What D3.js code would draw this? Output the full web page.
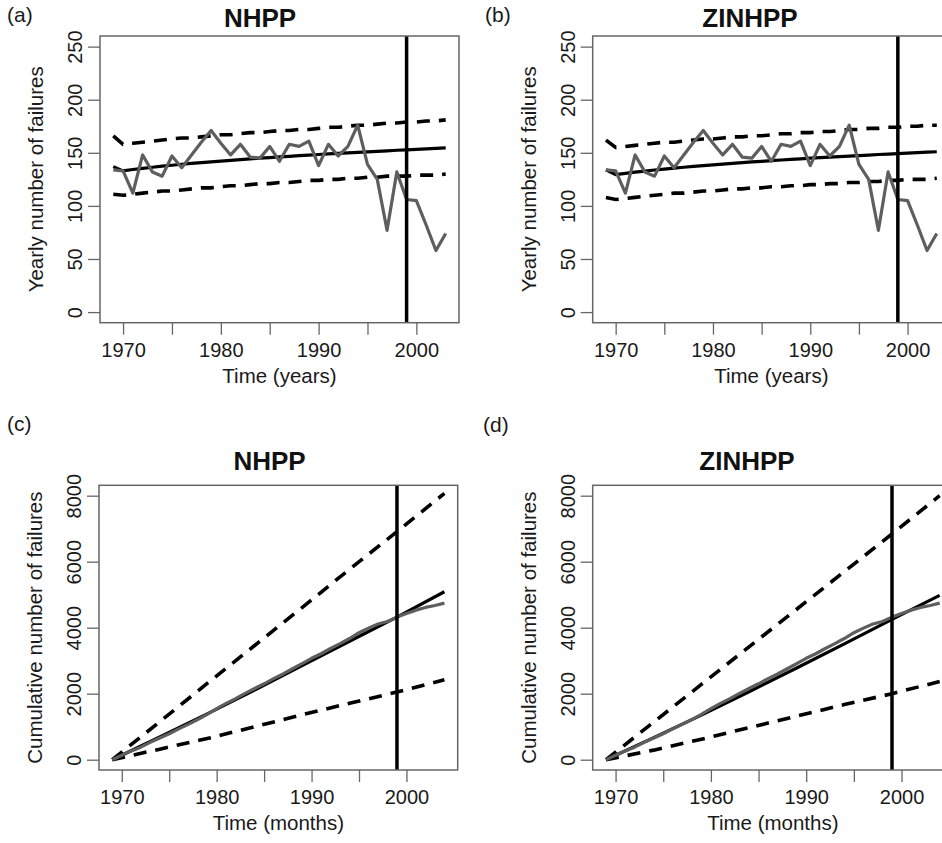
<!DOCTYPE html>
<html>
<head>
<meta charset="utf-8">
<script src="https://cdn.jsdelivr.net/npm/d3@7"></script>
<style>
  body { margin: 0; background: #fff; }
  svg { display: block; font-family: "Liberation Sans", Arial, Helvetica, sans-serif; }
</style>
</head>
<body>
<div id="chart"></div>
<script>
// Yearly failure counts, 1969-2003
const years = d3.range(1969, 2004);
const observed = [134,133,112,148,132,128,147,136,148,160, 171,159,148,158,146,145,156,142,158,156, 161,138,158,147,156,176,139,125,77,132, 106,105,82,58,74];

// NHPP yearly fit and 95% bounds
const nhppMean  = [137,133,134.3,135.4,136.4,137.4,138.3,139.2,140,140.8, 141.5,142.2,142.9,143.6,144.2,144.9,145.5,146.1,146.7,147.3, 147.8,148.4,148.9,149.4,149.9,150.4,150.9,151.4,151.9,152.4, 152.8,153.3,153.7,154.2,154.6];
const nhppUpper = [166,158,159,160,161,162,163,164,164,165, 166,167,167,168,169,169,170,171,171,172, 172,173,174,174,175,176,176,177,178,178, 179,179,180,180,181];
const nhppLower = [111,110,111,112,113,114,114,115,116,117, 117,118,119,119,120,121,121,122,122,123, 124,124,125,125,126,126,127,127,128,128, 128,129,129,129,130];

// ZINHPP yearly fit and 95% bounds
const zinMean  = [134,129.5,130.7,131.8,132.8,133.8,134.7,135.6,136.4,137.2, 138,138.7,139.4,140.1,140.8,141.4,142,142.6,143.2,143.8, 144.3,144.9,145.4,145.9,146.4,146.9,147.4,147.9,148.4,148.8, 149.3,149.7,150.2,150.6,151];
const zinUpper = [162,155,156,157,158,159,160,160,161,162, 163,163,164,165,165,166,166,167,168,168, 169,169,170,170,171,172,172,173,173,174, 174,175,175,176,176];
const zinLower = [108,106,107,108,109,110,111,112,112,113, 114,114,115,116,116,117,117,118,118,119, 119,120,120,121,121,122,122,123,123,124, 124,125,125,125,126];

// Cumulative failures at year boundaries, 1969-2004
const cumYears = d3.range(1969, 2005);
const observedCum = [0,134,267,379,527,659,787,934,1070,1217, 1376,1546,1705,1853,2011,2156,2300,2456,2598,2756, 2912,3073,3210,3369,3516,3672,3848,3987,4112,4189, 4321,4427,4532,4614,4672,4746];

// Cumulative fits, read every five years
const fitYears = [1969,1974,1979,1984,1989,1994,1999,2004];
const nhppCumMean  = [0,690,1390,2110,2850,3590,4320,5090];
const nhppCumUpper = [0,1150,2310,3460,4610,5770,6910,8070];
const nhppCumLower = [0,320,640,1000,1360,1710,2050,2420];
const zinCumMean  = [0,670,1350,2060,2780,3510,4250,4980];
const zinCumUpper = [0,1140,2280,3420,4560,5700,6840,8000];
const zinCumLower = [0,290,620,970,1320,1670,2000,2370];

const cutYear = 1999;
const xTicks = [1970,1975,1980,1985,1990,1995,2000];
const yTicksYear = [0,50,100,150,200,250];
const yTicksCum = [0,2000,4000,6000,8000];

const width = 942, height = 843;
const svg = d3.select("#chart").append("svg")
    .attr("width", width)
    .attr("height", height);

const panels = [
  {tag: "(a)", tagX: 7, tagY: 21.5, title: "NHPP", titleX: 260, titleY: 26.7,
   left: 100, right: 459, top: 36, bottom: 322.7,
   xDomain: [1967.64, 2004.36], yDomain: [-10, 260], yTicks: yTicksYear,
   xLabel: "Time (years)", yLabel: "Yearly number of failures",
   obsX: years, obs: observed, fitX: years, mean: nhppMean, upper: nhppUpper, lower: nhppLower},
  {tag: "(b)", tagX: 485, tagY: 22, title: "ZINHPP", titleX: 750, titleY: 26.7,
   left: 592.7, right: 950, top: 36, bottom: 322.7,
   xDomain: [1967.64, 2004.36], yDomain: [-10, 260], yTicks: yTicksYear,
   xLabel: "Time (years)", yLabel: "Yearly number of failures",
   obsX: years, obs: observed, fitX: years, mean: zinMean, upper: zinUpper, lower: zinLower},
  {tag: "(c)", tagX: 7, tagY: 431, title: "NHPP", titleX: 269.5, titleY: 470,
   left: 99, right: 457.7, top: 485.3, bottom: 770,
   xDomain: [1967.6, 2005.4], yDomain: [-312, 8315], yTicks: yTicksCum,
   xLabel: "Time (months)", yLabel: "Cumulative number of failures",
   obsX: cumYears, obs: observedCum, fitX: fitYears, mean: nhppCumMean, upper: nhppCumUpper, lower: nhppCumLower},
  {tag: "(d)", tagX: 483, tagY: 432, title: "ZINHPP", titleX: 747, titleY: 470,
   left: 592.7, right: 953, top: 485.3, bottom: 770,
   xDomain: [1967.6, 2005.4], yDomain: [-312, 8315], yTicks: yTicksCum,
   xLabel: "Time (months)", yLabel: "Cumulative number of failures",
   obsX: cumYears, obs: observedCum, fitX: fitYears, mean: zinCumMean, upper: zinCumUpper, lower: zinCumLower}
];

panels.forEach(drawPanel);

function drawPanel(p) {
  const x = d3.scaleLinear().domain(p.xDomain).range([p.left, p.right]);
  const y = d3.scaleLinear().domain(p.yDomain).range([p.bottom, p.top]);
  const g = svg.append("g");

  // Panel tag and title
  g.append("text")
      .attr("x", p.tagX).attr("y", p.tagY)
      .attr("font-size", 21).attr("fill", "#1a1a1a")
      .text(p.tag);
  g.append("text")
      .attr("x", p.titleX).attr("y", p.titleY)
      .attr("text-anchor", "middle")
      .attr("font-size", 26).attr("font-weight", "bold").attr("fill", "#111")
      .text(p.title);

  // Axes
  const xAxis = g.append("g")
      .attr("transform", `translate(0,${p.bottom})`)
      .call(d3.axisBottom(x)
          .tickValues(xTicks)
          .tickSize(12)
          .tickFormat(d => d % 10 === 0 ? d : ""));
  xAxis.select(".domain").remove();
  xAxis.selectAll("line").attr("stroke", "#666").attr("stroke-width", 1.3);
  xAxis.selectAll("text")
      .attr("y", 34).attr("dy", 0)
      .attr("font-size", 20).attr("fill", "#1a1a1a")
      .attr("font-family", null);

  const yAxis = g.append("g")
      .attr("transform", `translate(${p.left},0)`)
      .call(d3.axisLeft(y)
          .tickValues(p.yTicks)
          .tickSize(12)
          .tickFormat(d3.format("d")));
  yAxis.select(".domain").remove();
  yAxis.selectAll("line").attr("stroke", "#666").attr("stroke-width", 1.3);
  yAxis.selectAll("text")
      .attr("transform", "rotate(-90)")
      .attr("x", 0).attr("y", -18).attr("dy", 0)
      .attr("text-anchor", "middle")
      .attr("font-size", 20).attr("fill", "#1a1a1a")
      .attr("font-family", null);

  // Axis titles
  g.append("text")
      .attr("x", (p.left + p.right) / 2).attr("y", p.bottom + 60)
      .attr("text-anchor", "middle")
      .attr("font-size", 20.5).attr("fill", "#1a1a1a")
      .text(p.xLabel);
  g.append("text")
      .attr("transform", `translate(${p.left - 57},${(p.top + p.bottom) / 2}) rotate(-90)`)
      .attr("text-anchor", "middle")
      .attr("font-size", 20.5).attr("fill", "#1a1a1a")
      .text(p.yLabel);

  // Fitted curves: bounds dashed, mean solid
  const fitLine = d3.line().x((d, i) => x(p.fitX[i])).y(d => y(d));
  [p.upper, p.lower].forEach(s => {
    g.append("path")
        .attr("d", fitLine(s))
        .attr("fill", "none")
        .attr("stroke", "#000")
        .attr("stroke-width", 3.6)
        .attr("stroke-dasharray", "13,9");
  });
  g.append("path")
      .attr("d", fitLine(p.mean))
      .attr("fill", "none")
      .attr("stroke", "#000")
      .attr("stroke-width", 3.2);

  // Observed series
  const obsLine = d3.line().x((d, i) => x(p.obsX[i])).y(d => y(d));
  g.append("path")
      .attr("d", obsLine(p.obs))
      .attr("fill", "none")
      .attr("stroke", "#5e5e5e")
      .attr("stroke-width", 3.2)
      .attr("stroke-linejoin", "round");

  // Cut-off year
  g.append("line")
      .attr("x1", x(cutYear)).attr("x2", x(cutYear))
      .attr("y1", p.top).attr("y2", p.bottom)
      .attr("stroke", "#000")
      .attr("stroke-width", 3.5);

  // Plot frame
  g.append("rect")
      .attr("x", p.left).attr("y", p.top)
      .attr("width", p.right - p.left).attr("height", p.bottom - p.top)
      .attr("fill", "none")
      .attr("stroke", "#666")
      .attr("stroke-width", 1.5);
}
</script>
</body>
</html>
